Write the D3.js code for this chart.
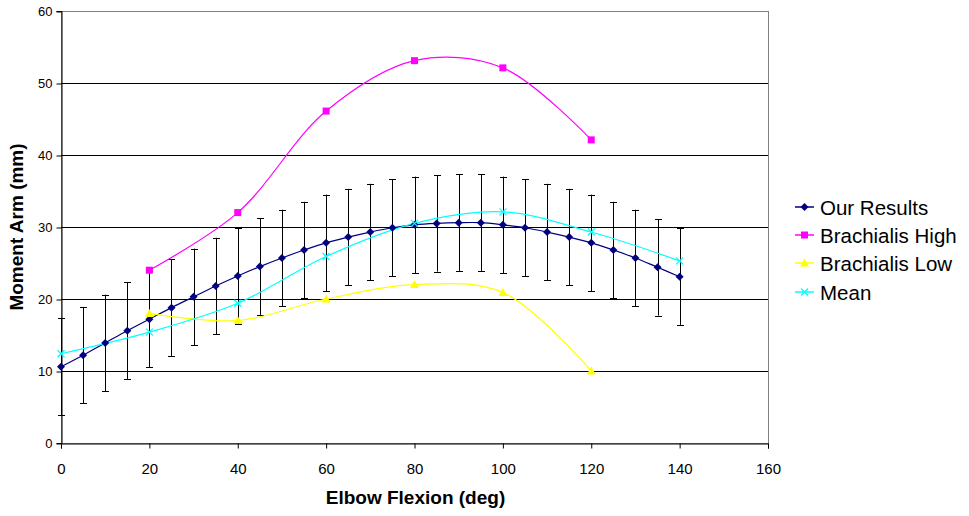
<!DOCTYPE html>
<html><head><meta charset="utf-8">
<script src="https://cdn.jsdelivr.net/npm/d3@7"></script>
<style>body{margin:0;background:#fff}svg{display:block}</style>
</head><body>
<svg id="c" width="969" height="516"></svg>
<script>
const ourX = [0,5,10,15,20,25,30,35,40,45,50,55,60,65,70,75,80,85,90,95,100,105,110,115,120,125,130,135,140];
const ourY = [10.6,12.2,13.9,15.6,17.2,18.8,20.3,21.8,23.2,24.5,25.7,26.8,27.8,28.6,29.3,29.9,30.3,30.5,30.6,30.6,30.3,29.9,29.3,28.6,27.8,26.8,25.7,24.4,23.1];
const ourErr = 6.7;
const brachX = [20,40,60,80,100,120];
const highY = [24,32,46.1,53.1,52.1,42.1];
const lowY = [18,17,20,22,20.9,10];
const meanX = [0,20,40,60,80,100,120,140];
const meanY = [12.4,15.4,19.4,25.9,30.5,32.1,29.3,25.3];
const xTicks = [0,20,40,60,80,100,120,140,160];
const yTicks = [0,10,20,30,40,50,60];
const seriesNames = ["Our Results","Brachialis High","Brachialis Low","Mean"];
const colors = ["#000080","#FF00FF","#FFFF00","#00FFFF"];

const svg = d3.select("#c");
const L=61,R=768,T=11,B=443;
const x = d3.scaleLinear().domain([0,160]).range([L,R]);
const y = d3.scaleLinear().domain([0,60]).range([B,T]);
const font = "Liberation Sans, Arial, sans-serif";

// plot border
svg.append("rect").attr("x",L).attr("y",T).attr("width",R-L).attr("height",B-T)
  .attr("fill","none").attr("stroke","#808080").attr("stroke-width",1).attr("shape-rendering","crispEdges");
// gridlines
svg.append("g").selectAll("line").data(yTicks.filter(d=>d>0)).join("line")
  .attr("x1",L).attr("x2",R).attr("y1",d=>Math.round(y(d))+0.5).attr("y2",d=>Math.round(y(d))+0.5)
  .attr("stroke",d=>d===60?"#808080":"#000").attr("stroke-width",1);

// axes
const yAxis = d3.axisLeft(y).tickValues(yTicks).tickSize(5).tickPadding(4);
const gy = svg.append("g").attr("transform",`translate(${L+0.5},0)`).call(yAxis);
const xAxis = d3.axisBottom(x).tickValues(xTicks).tickSize(5).tickPadding(15);
const gx = svg.append("g").attr("transform",`translate(0,${B+0.5})`).call(xAxis);
[gx,gy].forEach(g=>{
  g.select(".domain").attr("stroke","#000");
  g.selectAll(".tick line").attr("stroke","#000");
  g.selectAll("text").attr("font-family",font).attr("fill","#000");
});
gy.selectAll("text").attr("font-size",13);
gx.selectAll("text").attr("font-size",15);
gy.selectAll(".tick line").attr("transform","translate(0,0.5)");

// axis titles
svg.append("text").attr("x",(L+R)/2+1).attr("y",504).attr("text-anchor","middle")
  .attr("font-family",font).attr("font-weight","bold").attr("font-size",19).text("Elbow Flexion (deg)");
svg.append("text").attr("transform",`translate(23,${(T+B)/2}) rotate(-90)`).attr("text-anchor","middle")
  .attr("font-family",font).attr("font-weight","bold").attr("font-size",19).text("Moment Arm (mm)");

// error bars
const eb = svg.append("g");
ourX.forEach((xv,i)=>{
  const px = Math.round(x(xv))+0.5;
  const y1 = y(ourY[i]+ourErr), y2 = y(ourY[i]-ourErr);
  eb.append("line").attr("x1",px).attr("x2",px).attr("y1",y1).attr("y2",y2).attr("stroke","#000");
  [y1,y2].forEach(yy=>eb.append("line").attr("x1",px-3.5).attr("x2",px+3.5).attr("y1",Math.round(yy)+0.5).attr("y2",Math.round(yy)+0.5).attr("stroke","#000"));
});

const line = d3.line().x(d=>x(d[0])).y(d=>y(d[1])).curve(d3.curveCatmullRom.alpha(0.5));
const data = [
  ourX.map((v,i)=>[v,ourY[i]]),
  brachX.map((v,i)=>[v,highY[i]]),
  brachX.map((v,i)=>[v,lowY[i]]),
  meanX.map((v,i)=>[v,meanY[i]])
];
data.forEach((d,i)=>{
  svg.append("path").attr("d",line(d)).attr("fill","none").attr("stroke",colors[i]).attr("stroke-width",1.2);
});

function marker(g,type,cx,cy,c){
  if(type===0){
    g.append("path").attr("d",`M${cx},${cy-4}L${cx+4},${cy}L${cx},${cy+4}L${cx-4},${cy}Z`).attr("fill",c);
  } else if(type===1){
    g.append("rect").attr("x",cx-3.5).attr("y",cy-3.5).attr("width",7).attr("height",7).attr("fill",c);
  } else if(type===2){
    g.append("path").attr("d",`M${cx},${cy-4.5}L${cx+4.5},${cy+3.5}L${cx-4.5},${cy+3.5}Z`).attr("fill",c);
  } else {
    g.append("path").attr("d",`M${cx-3.5},${cy-3.5}L${cx+3.5},${cy+3.5}M${cx+3.5},${cy-3.5}L${cx-3.5},${cy+3.5}`).attr("stroke",c).attr("stroke-width",1.3);
  }
}
const mg = svg.append("g");
data.forEach((d,i)=>d.forEach(p=>marker(mg,i,x(p[0]),y(p[1]),colors[i])));

// legend
const leg = svg.append("g");
const legY = [207,235,263,292];
seriesNames.forEach((n,i)=>{
  leg.append("line").attr("x1",795).attr("x2",814).attr("y1",legY[i]).attr("y2",legY[i]).attr("stroke",colors[i]).attr("stroke-width",1.5);
  marker(leg,i,804.5,legY[i],colors[i]);
  leg.append("text").attr("x",820).attr("y",legY[i]+7.5).attr("font-family",font).attr("font-size",20.5).attr("fill","#000").text(n);
});
</script>
</body></html>
